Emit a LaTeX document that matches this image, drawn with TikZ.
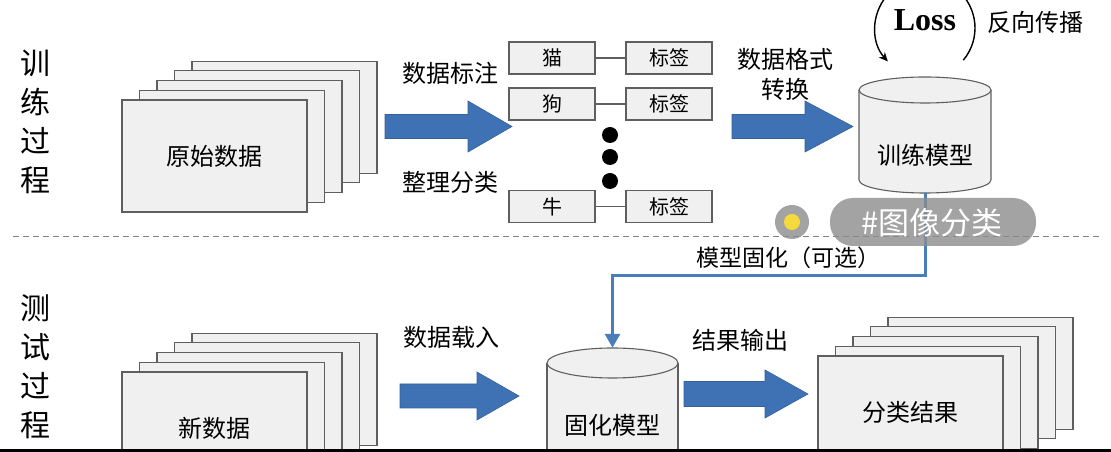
\documentclass[tikz,border=0pt]{standalone}
\usepackage{fontspec}
\setmainfont{Noto Sans CJK SC}
\newfontfamily\lossfont{Liberation Serif}
\usetikzlibrary{arrows.meta,calc}
\definecolor{arrowblue}{RGB}{62,114,180}
\definecolor{linkblue}{RGB}{74,126,187}
\definecolor{pagefill}{RGB}{240,240,240}
\definecolor{edgegray}{RGB}{95,95,95}
\definecolor{pillgray}{RGB}{140,140,140}
\definecolor{dotyellow}{RGB}{246,218,60}
\tikzset{
  page/.style={rectangle, minimum width=185pt, minimum height=112pt, fill=pagefill, draw=edgegray, line width=1.1pt, inner sep=0pt, font=\fontsize{24}{28}\selectfont},
  sbox/.style={rectangle, minimum width=86pt, minimum height=32pt, fill=pagefill, draw=edgegray, line width=1.1pt, inner sep=0pt, font=\fontsize{20}{24}\selectfont},
  lbl/.style={inner sep=0pt, font=\fontsize{24}{30}\selectfont, align=center},
  side/.style={inner sep=0pt, font=\fontsize{30}{39}\selectfont, align=center},
  bigarr/.style={fill=arrowblue, draw=arrowblue!85!black, line width=0.6pt},
  cyl/.style={fill=pagefill, draw=edgegray, line width=1.1pt},
  link/.style={draw=linkblue, line width=3pt, -{Triangle[width=15pt,length=14pt]}},
  ghost/.style={rectangle, inner sep=0pt, draw=none}
}
\newcommand\mystack[4]{%
  \foreach \k in {4,3,2,1}{\node[page] (#1-\k) at ({#2+17.5*\k},{#3+9.7*\k}) {};}
  \node[page] (#1) at (#2,#3) {#4};}
\begin{document}
\begin{tikzpicture}[x=1pt,y=1pt]
\useasboundingbox (0,0) rectangle (1111,452);
\fill[white] (0,0) rectangle (1111,452);
\begin{scope}
\clip (0,0) rectangle (1111,452);

% side labels
\node[side] (trainlbl) at (35,330.5) {训\\练\\过\\程};
\node[side] (testlbl) at (35,85.5) {测\\试\\过\\程};

% dashed separator
\coordinate (sepL) at (13,215);
\coordinate (sepR) at (1100,215);
\draw[gray, line width=1pt, dash pattern=on 6pt off 4pt] (sepL) -- (sepR);

% stacks
\mystack{raw}{214.5}{296}{原始数据}
\mystack{new}{214.5}{24}{新数据}
\mystack{res}{910.5}{40}{分类结果}

% big arrows
\draw[bigarr] (385,313.5) -- (468,313.5) -- (468,300) -- (512,325.5) -- (468,351) -- (468,337.5) -- (385,337.5) -- cycle;
\draw[bigarr] (732,313.5) -- (805,313.5) -- (805,300) -- (853,325.5) -- (805,351) -- (805,337.5) -- (732,337.5) -- cycle;
\draw[bigarr] (400,44) -- (477,44) -- (477,32) -- (519,56) -- (477,80) -- (477,68) -- (400,68) -- cycle;
\draw[bigarr] (684,45.5) -- (765,45.5) -- (765,34) -- (808,58) -- (765,82) -- (765,70.5) -- (684,70.5) -- cycle;

% arrow labels
\node[lbl] (annot) at (450,379) {数据标注};
\node[lbl] (sort) at (450,270) {整理分类};
\node[lbl] (fmt) at (785,378) {数据格式\\转换};
\node[lbl] (load) at (451,115) {数据载入};
\node[lbl] (outp) at (740,112) {结果输出};

% label boxes
\node[sbox] (cat) at (552,394) {猫};
\node[sbox] (cattag) at (669,394) {标签};
\node[sbox] (dog) at (552,348) {狗};
\node[sbox] (dogtag) at (669,348) {标签};
\node[sbox] (cow) at (552,245.5) {牛};
\node[sbox] (cowtag) at (669,245.5) {标签};
\draw[edgegray, line width=1.1pt] (cat) -- (cattag);
\draw[edgegray, line width=1.1pt] (dog) -- (dogtag);
\draw[edgegray, line width=1.1pt] (cow) -- (cowtag);
\fill (610,317) circle (8);
\fill (610,295) circle (8);
\fill (610,271) circle (8);

% training model cylinder
\draw[cyl] (859,362) -- (859,272) arc[start angle=180, end angle=360, x radius=66, y radius=13] -- (991,362);
\draw[cyl] (925,362) ellipse [x radius=66, y radius=13];
\node[ghost, minimum width=132pt, minimum height=116pt] (train) at (925,317) {};
\node[lbl] (trainname) at (925,297) {训练模型};

% loss loop
\draw[line width=1.4pt, -{Stealth[length=9pt,width=8pt]}] ($(925,424)+(-40:50)$) arc[start angle=-40, end angle=222, radius=50];
\node[inner sep=0pt, font=\lossfont\bfseries\fontsize{32}{36}\selectfont] (loss) at (925,432) {Loss};
\node[lbl] (bp) at (1035,430) {反向传播};

% fixed model cylinder
\draw[cyl] (547,89) -- (547,-30) -- (678,-30) -- (678,89);
\draw[cyl] (612.5,89) ellipse [x radius=65.5, y radius=15];
\node[ghost, minimum width=131pt, minimum height=124pt] (fixed) at (612.5,42) {};
\node[lbl] (fixedname) at (612.5,27) {固化模型};

% freeze connector
\coordinate (bend) at (925,176);
\draw[link] (train.south) -- (bend) -| (fixed.north);
\node[lbl, font=\fontsize{23}{28}\selectfont] (freeze) at (788,194) {模型固化（可选）};

% overlay tag
\fill[pillgray, opacity=0.8, rounded corners=23pt] (830,206) rectangle (1036,254);
\node[inner sep=0pt, text=white, font=\fontsize{31}{34}\selectfont] (tag) at (932,229) {\#图像分类};
\fill[pillgray, opacity=0.8] (792,230) circle (17);
\fill[dotyellow] (792,230) circle (8);

% bottom black bar
\fill[black] (0,0) rectangle (1111,2.5);
\end{scope}
\end{tikzpicture}
\end{document}
